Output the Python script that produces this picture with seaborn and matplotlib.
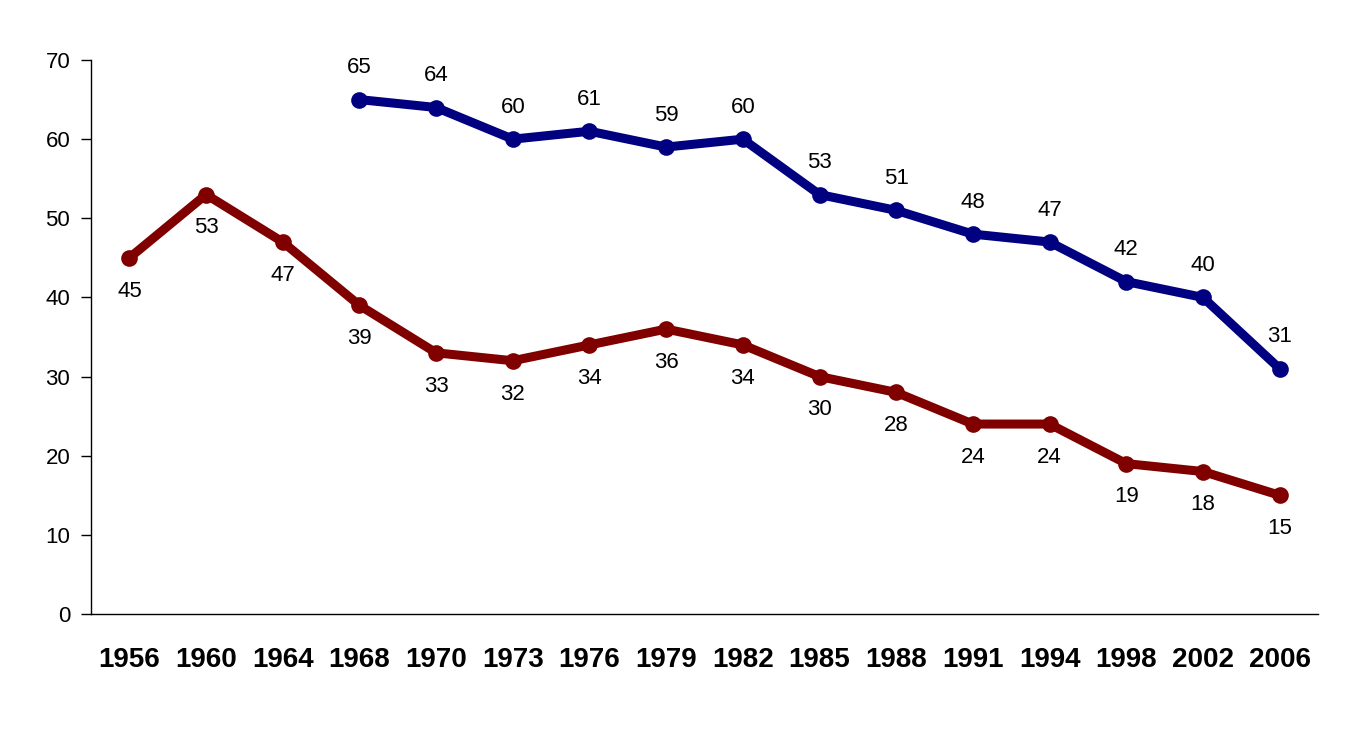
import matplotlib
matplotlib.use("Agg")
import matplotlib.pyplot as plt
import seaborn as sns
import pandas as pd
import numpy as np

# ======= data ========= #
years = ["1956", "1960", "1964", "1968", "1970", "1973", "1976", "1979",
         "1982", "1985", "1988", "1991", "1994", "1998", "2002", "2006"]
blue_vals = [np.nan, np.nan, np.nan, 65, 64, 60, 61, 59, 60, 53, 51, 48, 47, 42, 40, 31]
red_vals = [45, 53, 47, 39, 33, 32, 34, 36, 34, 30, 28, 24, 24, 19, 18, 15]

df = pd.DataFrame({"year": years, "pos": np.arange(len(years)),
                   "blue": blue_vals, "red": red_vals})

sns.set_style("white")
plt.rcParams["font.family"] = ["Liberation Sans", "DejaVu Sans"]
plt.rcParams["text.color"] = "black"
plt.rcParams["xtick.color"] = "black"
plt.rcParams["ytick.color"] = "black"

fig = plt.figure(figsize=(13.49, 7.54), dpi=100)
ax = fig.add_axes([0.0675, 0.1857, 0.9095, 0.7347])

sns.lineplot(data=df, x="pos", y="blue", color="#000080", linewidth=6.5,
             marker="o", markersize=12, markeredgewidth=0, ax=ax)
sns.lineplot(data=df, x="pos", y="red", color="#800000", linewidth=6.5,
             marker="o", markersize=12, markeredgewidth=0, ax=ax)

# etiquetas de datos
for p, v in zip(df["pos"], df["blue"]):
    if not np.isnan(v):
        ax.annotate(f"{int(v)}", (p, v), xytext=(0, 23), textcoords="offset points",
                    ha="center", va="center", fontsize=16, color="black")
for p, v in zip(df["pos"], df["red"]):
    ax.annotate(f"{int(v)}", (p, v), xytext=(0, -24), textcoords="offset points",
                ha="center", va="center", fontsize=16, color="black")

ax.set_xlim(-0.5, len(years) - 0.5)
ax.set_ylim(0, 70)
ax.set_yticks(range(0, 71, 10))
ax.set_xticks(df["pos"])
ax.set_xticklabels(years, fontsize=20, fontweight="bold")
ax.tick_params(axis="y", labelsize=16, length=7, width=1, direction="out",
               left=True, pad=8, colors="black")
ax.tick_params(axis="x", length=0, pad=24, colors="black")
ax.set_xlabel("")
ax.set_ylabel("")
ax.grid(False)

for s in ["top", "right"]:
    ax.spines[s].set_visible(False)
for s in ["left", "bottom"]:
    ax.spines[s].set_color("black")
    ax.spines[s].set_linewidth(1)

fig.savefig("out.png", dpi=100, facecolor="white")
